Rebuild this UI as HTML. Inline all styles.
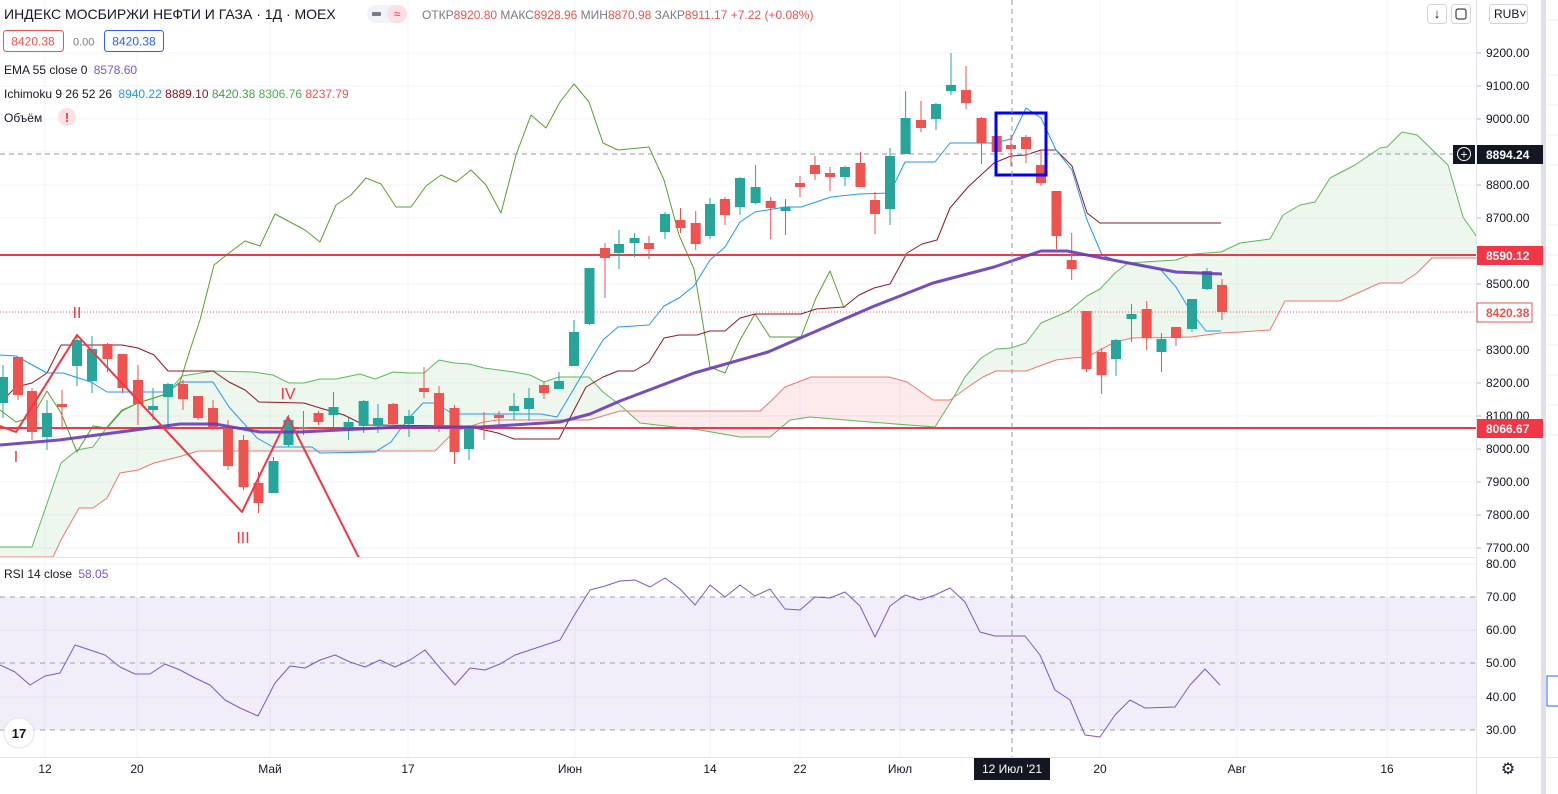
<!DOCTYPE html>
<html><head><meta charset="utf-8"><style>
html,body{margin:0;padding:0;background:#fff;width:1558px;height:794px;overflow:hidden}
svg{display:block;font-family:"Liberation Sans",sans-serif}
</style></head><body>
<svg id="c" width="1558" height="794" xmlns="http://www.w3.org/2000/svg"></svg>
<script>
const S=document.getElementById('c');let h='';
const py=p=>53+(9200-p)*0.33;
// grid
[9200,9100,9000,8900,8800,8700,8600,8500,8400,8300,8200,8100,8000,7900,7800,7700].forEach(p=>{h+=`<line x1="0" x2="1476" y1="${py(p)}" y2="${py(p)}" stroke="#f0f3fa"/>`});
[45,137,270,408,575,710,800,900,1100,1237,1387].forEach(x=>{h+=`<line x1="${x}" x2="${x}" y1="0" y2="757" stroke="#f0f3fa"/>`});
[564,630,697].forEach(y=>{h+=`<line x1="0" x2="1476" y1="${y}" y2="${y}" stroke="#f0f3fa"/>`});
const pl=(pts,c,w,extra='')=>`<polyline fill="none" stroke="${c}" stroke-width="${w}" stroke-linejoin="round" ${extra} points="${pts.map(p=>p.join(',')).join(' ')}"/>`;
// cloud
const A=[[0,547],[32,547],[61,463],[77,450],[93,447],[107,427],[122,410],[138,403],[166,394],[182,376],[213,371],[253,372],[273,375],[289,383],[304,383],[320,379],[336,379],[360,374],[375,379],[393,372],[409,373],[424,373],[439,360],[454,363],[469,364],[484,368],[514,372],[530,375],[544,382],[559,377],[589,377],[603,392],[620,405],[640,423],[700,430],[740,437],[770,437],[790,420],[810,417],[870,422],[935,427],[952,400],[965,377],[981,358],[996,349],[1011,348],[1026,343],[1041,323],[1069,311],[1087,296],[1100,289],[1115,273],[1128,263],[1176,260],[1193,254],[1221,252],[1240,243],[1270,239],[1283,215],[1300,205],[1315,202],[1330,178],[1355,165],[1380,148],[1387,147],[1402,132],[1417,135],[1448,165],[1463,217],[1477,237]];
const B=[[0,557],[53,557],[61,540],[79,508],[93,508],[107,498],[120,473],[138,470],[154,463],[182,456],[198,451],[435,451],[455,431],[484,422],[498,420],[589,420],[620,411],[760,411],[772,400],[785,387],[811,377],[889,377],[907,382],[933,400],[950,400],[968,387],[983,377],[996,371],[1026,371],[1056,360],[1072,358],[1087,357],[1115,342],[1132,338],[1191,337],[1221,333],[1240,332],[1270,330],[1285,301],[1340,301],[1380,283],[1402,283],[1417,273],[1432,258],[1477,258]];
h+=`<defs><clipPath id="ca"><polygon points="${A.map(p=>p.join(',')).join(' ')} 1477,0 0,0"/></clipPath><clipPath id="cb"><polygon points="${A.map(p=>p.join(',')).join(' ')} 1477,600 0,600"/></clipPath><clipPath id="mp"><rect x="0" y="0" width="1476" height="557"/></clipPath></defs>`;
const poly=[...A,...B.slice().reverse()].map(p=>p.join(',')).join(' ');
h+=`<g clip-path="url(#mp)"><polygon points="${poly}" fill="rgba(76,175,80,0.1)" clip-path="url(#cb)"/><polygon points="${poly}" fill="rgba(239,83,80,0.12)" clip-path="url(#ca)"/>`;
h+=pl(A,'#5cb85c',1)+pl(B,'#f0766f',1);
// chikou
h+=pl([[0,410],[16,422],[32,417],[47,391],[61,413],[77,452],[93,426],[107,428],[122,411],[138,403],[166,394],[180,382],[190,350],[200,320],[214,265],[229,253],[245,241],[260,246],[275,214],[290,222],[305,230],[320,242],[336,205],[351,195],[366,178],[381,184],[396,207],[411,207],[426,186],[441,175],[456,182],[471,170],[486,185],[501,213],[516,155],[531,115],[546,128],[560,102],[574,84],[589,102],[603,143],[618,150],[649,147],[664,180],[679,235],[694,269],[710,367],[725,373],[740,340],[755,314],[770,337],[801,337],[816,298],[830,271],[844,308]],'#5a9e2f',1);
// kijun
h+=pl([[0,403],[16,387],[32,383],[47,373],[61,345],[122,345],[138,348],[154,355],[168,371],[213,371],[229,382],[245,390],[259,402],[304,403],[320,408],[344,415],[364,425],[466,426],[498,433],[514,439],[559,439],[586,387],[603,377],[618,371],[634,371],[649,362],[664,338],[679,335],[697,335],[710,331],[725,331],[740,318],[755,314],[801,314],[816,309],[844,307],[859,295],[874,288],[890,284],[907,253],[922,244],[937,240],[950,208],[968,187],[994,163],[1011,156],[1026,155],[1041,150],[1056,150],[1072,166],[1087,213],[1100,223],[1221,223]],'#8b1a24',1);
// tenkan
h+=pl([[0,355],[16,356],[47,373],[63,373],[91,382],[107,392],[166,392],[182,382],[213,382],[229,407],[257,438],[273,447],[312,447],[320,453],[375,452],[391,442],[407,420],[423,403],[435,403],[453,414],[541,414],[557,417],[569,397],[586,368],[603,340],[618,327],[649,325],[664,306],[679,298],[694,286],[710,260],[725,247],[740,222],[755,212],[785,207],[801,207],[831,197],[859,194],[890,193],[905,162],[935,162],[950,143],[994,143],[1011,139],[1026,108],[1041,118],[1056,150],[1072,170],[1087,220],[1102,255],[1117,261],[1161,270],[1176,287],[1191,312],[1206,331],[1221,331]],'#2196f3',1);
// h lines
h+=`<line x1="0" x2="1476" y1="154" y2="154" stroke="#9598a1" stroke-dasharray="5,4"/>`;
h+=`<line x1="0" x2="1476" y1="312" y2="312" stroke="#ef5350" stroke-dasharray="1,2"/>`;
h+=`<line x1="0" x2="1476" y1="255" y2="255" stroke="#f23645" stroke-width="2"/><line x1="0" x2="1476" y1="428" y2="428" stroke="#f23645" stroke-width="2"/>`;
// candles
const C=[[3,'g',377,403,365,418],[18,'r',357,395,357,400],[32,'r',391,432,388,440],[47,'g',413,437,400,450],[62,'r',404,407,390,430],[77,'g',340,366,335,386],[92,'g',349,381,336,393],[107.5,'r',344,359,343,372],[122.5,'r',354,388,354,393],[138,'r',380,404,365,425],[153,'g',406,410,388,420],[168,'g',384,397,383,430],[183,'r',384,399,380,410],[198,'r',396,418,396,420],[213,'r',408,428,400,430],[228,'r',428,466,420,470],[243.5,'r',440,487,435,490],[258.5,'r',483,503,472,513],[273.5,'g',461,493,457,493],[288.5,'g',420,445,415,447],[303.5,'r',427,428,411,435],[318.5,'r',413,422,411,425],[333.5,'g',407,415,392,427],[348.6,'g',422,427,418,440],[363.6,'g',401,426,400,433],[378,'g',418,425,404,433],[393,'r',404,424,403,427],[409,'g',416,424,410,437],[424,'r',388,392,367,398],[439,'r',393,426,386,432],[454.5,'r',408,452,405,464],[469,'g',428,449,425,460],[484,'r',426,428,412,440],[499,'r',415,418,411,426],[514,'g',406,411,393,420],[529,'g',398,409,388,421],[544,'r',385,393,382,399],[559,'g',381,389,372,389],[574,'g',332,366,320,366],
[589.5,'g',268,324,268,325],[605,'r',248,258,243,298],[619,'g',244,253,230,269],[634.6,'g',238,243,233,257],[649,'r',243,249,236,259],[665,'g',214,232,212,239],[680.5,'r',220,228,208,233],[695.7,'r',223,244,211,250],[710,'g',204,236,198,239],[725,'r',199,215,197,225],[740,'g',178,207,177,215],[755.6,'g',187,203,165,204],[770.7,'r',201,208,197,239],[785.5,'g',207,211,199,235],[800,'r',183,187,176,197],[815,'r',165,174,156,180],[830,'r',173,177,167,191],[845,'g',167,177,166,186],[860.5,'r',163,187,152,187],[875,'r',200,214,192,234],[890,'g',156,209,148,225],[905.6,'g',118,154,91,154],[921,'r',120,128,101,132],[936,'g',104,119,103,130],[951,'g',85,91,53,95],[966,'r',90,103,66,109],[981.5,'r',118,143,117,164],[996.7,'r',136,152,136,152],[1011,'r',145,149,135,166],[1026,'r',137,149,135,163],[1041,'r',165,183,150,186],[1056.5,'r',191,236,191,249],[1071.7,'r',260,269,233,280],[1086.5,'r',311,369,311,372],[1101.6,'r',352,375,348,394],[1116,'g',340,359,339,376],[1131.5,'g',314,319,304,342],[1146.7,'r',309,338,301,350],[1161.5,'g',339,352,333,372],[1176,'r',327,338,327,346],[1192,'g',299,329,299,332],[1207,'g',271,289,268,290],[1222,'r',285,312,279,320]];
C.forEach(c=>{const col=c[1]=='g'?'#26a69a':'#ef5350';h+=`<line x1="${c[0]}" x2="${c[0]}" y1="${c[4]}" y2="${c[5]}" stroke="${col}"/><rect x="${c[0]-5}" y="${c[2]}" width="10" height="${Math.max(2,c[3]-c[2])}" fill="${col}"/>`});
// EMA
h+=pl([[0,445],[59,440],[120,432],[180,424],[215,424],[260,432],[300,432],[400,427],[480,427],[560,422],[590,414],[620,401],[694,373],[768,352],[872,307],[933,283],[994,267],[1041,251],[1067,251],[1102,258],[1176,272],[1222,274]],'#673ab7',3,'opacity="0.9"');
// elliott
h+=pl([[0,426],[16,432],[77,335],[242,512],[288,417],[360,560]],'#f23645',2);
h+=`</g>`;
h+=`<g fill="#f23645" font-size="16" text-anchor="middle"><text x="16" y="462">I</text><text x="77" y="318">II</text><text x="243" y="543">III</text><text x="288" y="399">IV</text></g>`;
// box
h+=`<rect x="996" y="113" width="50" height="62" fill="none" stroke="#0000ff" stroke-width="3"/>`;
// crosshair
h+=`<line x1="1012" x2="1012" y1="0" y2="757" stroke="#9598a1" stroke-dasharray="5,4"/>`;
// separators
h+=`<line x1="0" x2="1476" y1="557.5" y2="557.5" stroke="#e0e3eb"/><line x1="1476.5" x2="1476.5" y1="0" y2="794" stroke="#e0e3eb"/><line x1="0" x2="1558" y1="757.5" y2="757.5" stroke="#e0e3eb"/>`;
h+=`<rect x="1541" y="0" width="5" height="794" fill="#dde0e8"/>`;
[20,75,105,135,165,225,255,285,315,345,375,405,435].forEach(y=>{h+=`<line x1="1547" x2="1558" y1="${y}" y2="${y}" stroke="#eceef2"/>`});
h+=`<rect x="1547" y="676" width="12" height="30" fill="none" stroke="#2962ff"/>`;
// RSI
h+=`<rect x="0" y="597" width="1476" height="133" fill="rgba(126,87,194,0.1)"/>`;
[597,663,730].forEach(y=>{h+=`<line x1="0" x2="1476" y1="${y}" y2="${y}" stroke="#787b86" stroke-dasharray="5,5" stroke-width="1" opacity="0.7"/>`});
h+=pl([[0,665],[15,672],[30,685],[45,676],[60,673],[75,645],[90,650],[105,655],[120,667],[135,674],[150,674],[165,664],[180,670],[195,678],[210,685],[225,700],[240,708],[258,716],[275,683],[290,666],[305,668],[320,660],[335,655],[350,662],[365,667],[380,660],[395,667],[410,660],[425,650],[440,668],[455,685],[470,668],[485,670],[500,664],[515,655],[530,650],[545,645],[560,640],[575,614],[590,590],[605,586],[620,581],[635,580],[650,587],[665,578],[680,589],[695,605],[710,585],[725,597],[740,585],[755,596],[770,589],[785,609],[800,610],[815,597],[830,598],[845,592],[860,606],[875,637],[890,606],[905,595],[920,600],[935,595],[950,588],[965,602],[980,632],[995,636],[1025,636],[1040,655],[1055,690],[1070,700],[1085,735],[1100,737],[1115,715],[1130,700],[1145,708],[1175,707],[1190,685],[1205,669],[1220,685]],'#7e57c2',1);
// price labels
h+=`<g font-size="12" fill="#131722">`;
[9200,9100,9000,8800,8700,8500,8300,8200,8100,8000,7900,7800,7700].forEach(p=>{h+=`<text x="1486" y="${py(p)+4}">${p}.00</text><line x1="1477" x2="1481" y1="${py(p)}" y2="${py(p)}" stroke="#b2b5be"/>`});
[[564,'80.00'],[597,'70.00'],[630,'60.00'],[663,'50.00'],[697,'40.00'],[730,'30.00']].forEach(a=>{h+=`<text x="1486" y="${a[0]+4}">${a[1]}</text>`});
h+=`</g>`;
h+=`<rect x="1477" y="145" width="66" height="19" fill="#131722"/><text x="1486" y="159" font-size="12" font-weight="bold" fill="#fff">8894.24</text>`;
h+=`<rect x="1453" y="145" width="22" height="19" fill="#131722"/><circle cx="1464" cy="154" r="6.5" fill="none" stroke="#fff"/><text x="1464" y="158.5" font-size="12" fill="#fff" text-anchor="middle">+</text>`;
h+=`<rect x="1477" y="246" width="66" height="19" fill="#f23645"/><text x="1486" y="260" font-size="12" font-weight="bold" fill="#fff">8590.12</text>`;
h+=`<rect x="1477" y="303" width="55" height="19" fill="#fff" stroke="#ef5350"/><text x="1486" y="317" font-size="12" font-weight="bold" fill="#ef5350">8420.38</text>`;
h+=`<rect x="1477" y="419" width="66" height="19" fill="#f23645"/><text x="1486" y="433" font-size="12" font-weight="bold" fill="#fff">8066.67</text>`;
// time axis
h+=`<g font-size="12" fill="#131722" text-anchor="middle">`;
[[45,'12'],[137,'20'],[270,'Май'],[408,'17'],[570,'Июн'],[710,'14'],[800,'22'],[900,'Июл'],[1100,'20'],[1237,'Авг'],[1387,'16']].forEach(a=>{h+=`<text x="${a[0]}" y="773">${a[1]}</text>`});
h+=`</g><rect x="974" y="758" width="76" height="22" fill="#131722"/><text x="1012" y="773" font-size="12" fill="#fff" text-anchor="middle">12 Июл '21</text>`;
h+=`<text x="1508" y="774" font-size="16" fill="#131722" text-anchor="middle">⚙</text>`;
// TV logo
h+=`<circle cx="19" cy="733" r="15" fill="#fff" stroke="#e0e3eb"/><text x="19" y="738" font-size="13" font-weight="bold" fill="#131722" text-anchor="middle">17</text>`;
// header
h+=`<text x="4" y="19" font-size="14" fill="#131722">ИНДЕКС МОСБИРЖИ НЕФТИ И ГАЗА · 1Д · MOEX</text>`;
h+=`<rect x="367" y="5" width="40" height="18" rx="9" fill="#f0f3fa"/><rect x="387" y="5" width="20" height="18" rx="9" fill="#fde0e3"/><rect x="372" y="12" width="9" height="4" rx="1" fill="#787b86"/><text x="397" y="18" font-size="12" fill="#f23645" text-anchor="middle">≈</text>`;
h+=`<text x="422" y="19" font-size="12" fill="#787b86">ОТКР<tspan fill="#ef5350">8920.80</tspan> МАКС<tspan fill="#ef5350">8928.96</tspan> МИН<tspan fill="#ef5350">8870.98</tspan> ЗАКР<tspan fill="#ef5350">8911.17 +7.22 (+0.08%)</tspan></text>`;
h+=`<rect x="3.5" y="30.5" width="60" height="21" rx="3" fill="#fff" stroke="#ef5350"/><text x="33" y="45.5" font-size="12" fill="#ef5350" text-anchor="middle">8420.38</text><text x="73" y="45.5" font-size="11" fill="#787b86">0.00</text><rect x="104.5" y="30.5" width="59" height="21" rx="3" fill="#fff" stroke="#2962ff"/><text x="134" y="45.5" font-size="12" fill="#2962ff" text-anchor="middle">8420.38</text>`;
h+=`<text x="4" y="74" font-size="12" fill="#131722">EMA 55 close 0 <tspan fill="#7e57c2" dx="3">8578.60</tspan></text>`;
h+=`<text x="4" y="98" font-size="12" fill="#131722">Ichimoku 9 26 52 26 <tspan fill="#2196f3" dx="3">8940.22</tspan> <tspan fill="#801922">8889.10</tspan> <tspan fill="#43a047">8420.38</tspan> <tspan fill="#4caf50">8306.76</tspan> <tspan fill="#f05350">8237.79</tspan></text>`;
h+=`<text x="4" y="122" font-size="12" fill="#131722">Объём</text><circle cx="67" cy="117" r="9" fill="#fde0e3"/><text x="67" y="122" font-size="13" fill="#f23645" text-anchor="middle" font-weight="bold">!</text>`;
h+=`<text x="4" y="578" font-size="12" fill="#131722">RSI 14 close <tspan fill="#7e57c2" dx="3">58.05</tspan></text>`;
// buttons
h+=`<rect x="1427.5" y="4.5" width="19" height="19" rx="3" fill="#fff" stroke="#d1d4dc"/><text x="1437" y="18" font-size="13" text-anchor="middle" fill="#131722">↓</text><rect x="1451.5" y="4.5" width="19" height="19" rx="3" fill="#fff" stroke="#d1d4dc"/><rect x="1456" y="9" width="10" height="10" rx="2" fill="none" stroke="#131722"/>`;
h+=`<rect x="1489.5" y="4.5" width="38" height="19" rx="3" fill="#fff" stroke="#d1d4dc"/><text x="1494" y="18" font-size="12" fill="#131722">RUB˅</text>`;
S.innerHTML=h;
</script>
</body></html>
